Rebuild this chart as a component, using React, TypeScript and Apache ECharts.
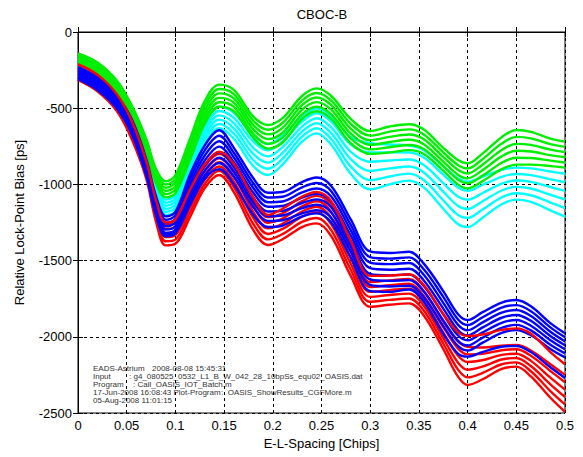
import React, { useEffect, useRef } from "react";
import * as echarts from "echarts";

// x positions (E-L spacing, chips)
const X = [0, 0.02, 0.04, 0.055, 0.07, 0.08, 0.09, 0.1, 0.115, 0.13, 0.145, 0.16, 0.18, 0.195, 0.21, 0.23, 0.245, 0.26, 0.28, 0.3, 0.32, 0.34, 0.355, 0.375, 0.39, 0.4, 0.415, 0.435, 0.45, 0.465, 0.485, 0.5];

const xTicks = [0, 0.05, 0.1, 0.15, 0.2, 0.25, 0.3, 0.35, 0.4, 0.45, 0.5];
const yTicks = [-2500, -2000, -1500, -1000, -500, 0];

// green group
const green1 = [-140, -200, -320, -480, -700, -897, -980, -940, -700, -455, -345, -380, -555, -610, -565, -420, -370, -420, -570, -650, -620, -605, -640, -760, -840, -862, -800, -690, -643, -655, -700, -720];
const green2 = [-152, -213, -334, -495, -716, -916, -1001, -964, -728, -484, -374, -408, -583, -641, -597, -450, -400, -450, -602, -680, -654, -639, -672, -790, -872, -895, -836, -732, -688, -698, -736, -754];
const green3 = [-164, -226, -348, -510, -732, -935, -1022, -987, -756, -514, -403, -436, -611, -672, -629, -480, -430, -480, -634, -710, -688, -673, -704, -820, -904, -928, -872, -774, -734, -741, -772, -788];
const green4 = [-176, -239, -362, -525, -748, -954, -1043, -1011, -784, -544, -432, -464, -639, -703, -661, -510, -460, -510, -666, -740, -722, -707, -736, -850, -936, -960, -908, -816, -779, -784, -808, -822];
const green5 = [-188, -252, -376, -540, -764, -973, -1064, -1034, -812, -574, -461, -492, -667, -734, -693, -540, -490, -540, -698, -770, -756, -741, -768, -880, -968, -993, -944, -858, -825, -827, -844, -856];
const green6 = [-200, -265, -390, -555, -780, -991, -1085, -1058, -840, -604, -490, -520, -695, -765, -725, -570, -520, -570, -730, -800, -790, -775, -800, -910, -1000, -1026, -980, -900, -870, -870, -880, -890];

// cyan group
const cyan1 = [-185, -245, -370, -540, -770, -988, -1100, -1070, -835, -605, -490, -530, -680, -735, -680, -555, -500, -550, -690, -730, -738, -745, -775, -880, -960, -982, -950, -905, -890, -895, -915, -930];
const cyan2 = [-196, -258, -384, -556, -786, -1006, -1120, -1091, -860, -630, -518, -564, -720, -776, -718, -588, -533, -588, -738, -790, -790, -791, -824, -936, -1020, -1042, -1004, -950, -932, -939, -966, -986];
const cyan3 = [-207, -271, -398, -572, -802, -1024, -1140, -1112, -885, -656, -547, -598, -760, -816, -756, -621, -566, -626, -786, -851, -843, -837, -873, -992, -1080, -1101, -1058, -995, -974, -983, -1017, -1043];
const cyan4 = [-218, -284, -412, -588, -818, -1043, -1160, -1133, -910, -682, -575, -632, -800, -857, -794, -654, -599, -664, -834, -911, -895, -883, -922, -1048, -1140, -1161, -1112, -1040, -1016, -1027, -1068, -1099];
const cyan5 = [-229, -297, -426, -604, -834, -1061, -1180, -1154, -935, -708, -604, -666, -840, -897, -832, -687, -632, -702, -882, -972, -948, -929, -971, -1104, -1200, -1220, -1166, -1085, -1058, -1071, -1119, -1156];
const cyan6 = [-240, -310, -440, -620, -850, -1080, -1200, -1175, -960, -734, -632, -700, -880, -938, -870, -720, -665, -740, -930, -1032, -1000, -975, -1020, -1160, -1260, -1280, -1220, -1130, -1100, -1115, -1170, -1212];

// blue group
const blue1 = [-230, -300, -420, -570, -830, -1075, -1210, -1180, -935, -745, -645, -760, -960, -1055, -1050, -985, -955, -1010, -1230, -1440, -1450, -1442, -1520, -1700, -1850, -1890, -1840, -1775, -1759, -1800, -1910, -1977];
const blue2 = [-243, -313, -433, -585, -847, -1096, -1232, -1204, -966, -778, -681, -792, -992, -1086, -1081, -1019, -991, -1045, -1265, -1477, -1487, -1479, -1557, -1738, -1885, -1923, -1873, -1808, -1792, -1832, -1938, -2003];
const blue3 = [-257, -327, -447, -600, -863, -1116, -1253, -1227, -997, -812, -717, -823, -1023, -1117, -1112, -1053, -1027, -1080, -1300, -1513, -1523, -1516, -1593, -1777, -1920, -1957, -1907, -1842, -1824, -1863, -1967, -2030];
const blue4 = [-270, -340, -460, -615, -880, -1136, -1275, -1250, -1029, -845, -752, -855, -1055, -1147, -1142, -1087, -1062, -1115, -1335, -1550, -1560, -1553, -1630, -1815, -1955, -1990, -1940, -1875, -1857, -1895, -1995, -2056];
const blue5 = [-283, -353, -473, -630, -897, -1157, -1297, -1274, -1061, -878, -788, -887, -1087, -1178, -1173, -1122, -1098, -1150, -1370, -1587, -1597, -1591, -1667, -1853, -1990, -2023, -1973, -1908, -1890, -1927, -2023, -2082];
const blue6 = [-297, -367, -487, -645, -913, -1177, -1318, -1297, -1092, -912, -824, -918, -1118, -1209, -1204, -1156, -1134, -1185, -1405, -1623, -1633, -1628, -1703, -1892, -2025, -2057, -2007, -1942, -1922, -1958, -2052, -2109];
const blue7 = [-310, -380, -500, -660, -930, -1198, -1340, -1320, -1124, -945, -860, -950, -1150, -1240, -1235, -1190, -1170, -1220, -1440, -1660, -1670, -1665, -1740, -1930, -2060, -2090, -2040, -1975, -1955, -1990, -2080, -2135];
const blue8 = [-300, -375, -500, -665, -940, -1191, -1330, -1315, -1134, -965, -900, -1000, -1200, -1280, -1270, -1210, -1190, -1250, -1480, -1700, -1705, -1690, -1770, -1980, -2110, -2130, -2100, -2065, -2060, -2100, -2200, -2270];

// red group
const red1 = [-210, -280, -410, -580, -845, -1100, -1250, -1230, -1035, -870, -785, -865, -1085, -1200, -1160, -1080, -1050, -1110, -1370, -1600, -1598, -1590, -1660, -1850, -1970, -1995, -1985, -1955, -1945, -1980, -2100, -2180];
const red2 = [-215, -285, -420, -590, -860, -1111, -1265, -1248, -1055, -885, -800, -880, -1100, -1215, -1190, -1110, -1075, -1140, -1400, -1640, -1630, -1620, -1700, -1900, -2030, -2065, -2070, -2058, -2054, -2090, -2180, -2250];
const red3 = [-235, -306, -440, -612, -880, -1138, -1292, -1276, -1087, -913, -828, -914, -1140, -1252, -1224, -1144, -1111, -1180, -1440, -1673, -1662, -1652, -1732, -1936, -2076, -2115, -2112, -2088, -2082, -2124, -2224, -2298];
const red4 = [-255, -327, -460, -634, -900, -1164, -1319, -1305, -1119, -941, -855, -948, -1180, -1288, -1258, -1178, -1147, -1220, -1480, -1705, -1694, -1684, -1764, -1972, -2122, -2165, -2154, -2119, -2111, -2158, -2268, -2347];
const red5 = [-275, -348, -480, -656, -920, -1190, -1346, -1333, -1151, -969, -883, -982, -1220, -1325, -1292, -1212, -1184, -1260, -1520, -1738, -1726, -1717, -1796, -2008, -2168, -2216, -2196, -2149, -2139, -2192, -2312, -2395];
const red6 = [-295, -369, -500, -678, -940, -1216, -1373, -1362, -1183, -997, -910, -1016, -1260, -1361, -1326, -1246, -1220, -1300, -1560, -1770, -1758, -1749, -1828, -2044, -2214, -2266, -2238, -2180, -2168, -2226, -2356, -2444];
const red7 = [-315, -390, -520, -700, -960, -1243, -1400, -1390, -1215, -1025, -938, -1050, -1300, -1398, -1360, -1280, -1256, -1340, -1600, -1803, -1790, -1781, -1860, -2080, -2260, -2316, -2280, -2210, -2196, -2260, -2400, -2492];

const GREEN = "#00ee00";
const CYAN = "#00ffff";
const BLUE = "#0000ff";
const RED = "#ff0000";

const groups: [number[][], string][] = [
  [[cyan1, cyan2, cyan3, cyan4, cyan5, cyan6], CYAN],
  [[green1, green2, green3, green4, green5, green6], GREEN],
  [[red2, red3, red4, red5, red6, red7], RED],
  [[blue1, blue2, blue3, blue4, blue5, blue6, blue7, blue8], BLUE],
  [[red1], RED],
];

const FONT = "Liberation Sans, Arial, sans-serif";

export default function App() {
  const ref = useRef<HTMLDivElement>(null);
  useEffect(() => {
    if (!ref.current) return;
    const chart = echarts.init(ref.current, undefined, { renderer: "svg" });
    const series: any[] = [];
    groups.forEach(([lines, color], gi) => {
      lines.forEach((ys, li) => {
        series.push({
          type: "line",
          name: `g${gi}_${li}`,
          data: X.map((x, i) => [x, ys[i]]),
          showSymbol: false,
          smooth: 0.35,
          silent: true,
          lineStyle: { color, width: 2.4 },
          itemStyle: { color },
          xAxisIndex: 0,
          yAxisIndex: 0,
        });
      });
    });
    const small = { fontSize: 8, fontFamily: FONT, fill: "#333" };
    const txt = (x: number, y: number, text: string) => ({
      type: "text",
      x,
      y,
      silent: true,
      style: { text, ...small, textVerticalAlign: "middle" },
    });
    const splitLine = { show: true, lineStyle: { color: "#000", type: [3, 3], width: 1 } };
    const tick = { show: true, inside: true, length: 5, lineStyle: { color: "#000" } };
    const line = { show: true, lineStyle: { color: "#000" } };
    const label = { fontSize: 13, fontFamily: FONT, color: "#000", margin: 6 };
    chart.setOption({
      animation: false,
      grid: { left: 78, right: 18, top: 32, bottom: 44, show: true, borderColor: "#000", borderWidth: 1, backgroundColor: "#fff" },
      xAxis: [
        {
          type: "value",
          min: xTicks[0],
          max: xTicks[xTicks.length - 1],
          interval: 0.05,
          position: "bottom",
          name: "E-L-Spacing [Chips]",
          nameLocation: "middle",
          nameGap: 22,
          nameTextStyle: { fontSize: 13, fontFamily: FONT, color: "#000" },
          axisLine: line,
          axisTick: tick,
          axisLabel: { ...label, formatter: (v: number) => String(+v.toFixed(2)) },
          splitLine,
        },
        {
          type: "value",
          min: xTicks[0],
          max: xTicks[xTicks.length - 1],
          interval: 0.05,
          position: "top",
          axisLine: line,
          axisTick: tick,
          axisLabel: { show: false },
          splitLine: { show: false },
        },
      ],
      yAxis: [
        {
          type: "value",
          min: yTicks[0],
          max: yTicks[yTicks.length - 1],
          interval: 500,
          position: "left",
          name: "Relative Lock-Point Bias [ps]",
          nameLocation: "middle",
          nameGap: 52,
          nameTextStyle: { fontSize: 13, fontFamily: FONT, color: "#000" },
          axisLine: line,
          axisTick: tick,
          axisLabel: { ...label, formatter: (v: number) => String(v) },
          splitLine,
        },
        {
          type: "value",
          min: yTicks[0],
          max: yTicks[yTicks.length - 1],
          interval: 500,
          position: "right",
          axisLine: line,
          axisTick: tick,
          axisLabel: { show: false },
          splitLine: { show: false },
        },
      ],
      series,
      graphic: [
        {
          type: "text",
          x: 322,
          y: 14,
          silent: true,
          style: { text: "CBOC-B", fontSize: 13, fontFamily: FONT, fill: "#000", textAlign: "center", textVerticalAlign: "middle" },
        },
        txt(93, 368, "EADS-Astrium"),
        txt(152, 368, "2008-08-08 15:45:31"),
        txt(93, 376.5, "Input"),
        txt(129, 376.5, ": g4_080525_0532_L1_B_W_042_28_10bpSs_equ02_OASIS.dat"),
        txt(93, 384.5, "Program"),
        txt(133, 384.5, ": Call_OASIS_IOT_Batch.m"),
        txt(93, 392.5, "17-Jun-2008 16:08:43 Plot-Program"),
        txt(221, 392.5, ":  OASIS_ShowResults_CGFMore.m"),
        txt(93, 400.5, "05-Aug-2008 11:01:15"),
      ],
    });
    return () => chart.dispose();
  }, []);
  return (
    <div
      ref={ref}
      style={{ position: "fixed", left: 0, top: 0, width: 583, height: 457, background: "#fff" }}
    />
  );
}
